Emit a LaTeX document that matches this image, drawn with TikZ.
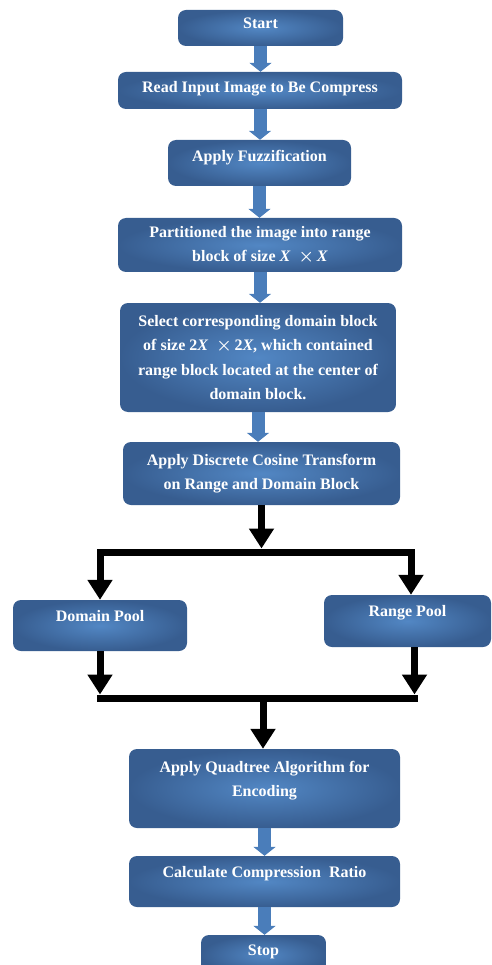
\documentclass[tikz,border=0pt]{standalone}
\usepackage{fontspec}
\setmainfont{Liberation Serif}
\usetikzlibrary{arrows.meta}
\definecolor{boxlight}{HTML}{5287C4}
\definecolor{boxdark}{HTML}{375D90}
\definecolor{arrowblue}{HTML}{4A7DBA}
\begin{document}
\begin{tikzpicture}[x=1pt, y=-1pt]
    \tikzset{
      stepbox/.style={rounded corners=8pt, inner color=boxlight, outer color=boxdark,
        text=white, align=center, inner sep=3pt,
        font=\bfseries\boldmath\fontsize{16}{24.5}\selectfont},
      lift/.style={text depth=#1},
      flow/.style={draw=arrowblue, line width=13pt, -{Triangle[width=22pt,length=9pt]}},
      branch/.style={line width=7pt, line join=miter, -{Triangle[width=24pt,length=20pt]}}
    }
    \useasboundingbox (0,0) rectangle (491,965);
    \node[stepbox, minimum width=165pt, minimum height=36pt, lift=9pt] (start) at (260.5,28) {Start};
    \node[stepbox, minimum width=284pt, minimum height=37pt, lift=8pt] (read) at (260,90.5) {Read Input Image to Be Compress};
    \node[stepbox, minimum width=183pt, minimum height=46pt, lift=15pt] (fuzzy) at (259.5,163) {Apply Fuzzification};
    \node[stepbox, minimum width=284pt, minimum height=54pt] (part) at (260,245) {Partitioned the image into range\\ block of size \textit{X}\ \ $\times$\,\textit{X}};
    \node[stepbox, minimum width=276pt, minimum height=109pt] (select) at (258,357.5) {Select corresponding domain block\\ of size 2\textit{X}\ \ $\times$\,2\textit{X}, which contained\\ range block located at the center of\\ domain block.};
    \node[stepbox, minimum width=277pt, minimum height=63pt] (dct) at (261.5,473.5) {Apply Discrete Cosine Transform\\ on Range and Domain Block};
    \node[stepbox, minimum width=174pt, minimum height=51pt, lift=19pt] (dpool) at (100,625.5) {Domain Pool};
    \node[stepbox, minimum width=167pt, minimum height=52pt, lift=21pt] (rpool) at (407.5,621) {Range Pool};
    \node[stepbox, minimum width=271pt, minimum height=79pt, lift=19pt] (quad) at (264.5,788.5) {Apply Quadtree Algorithm for\\ Encoding};
    \node[stepbox, minimum width=271pt, minimum height=51pt, lift=20pt] (calc) at (264.5,881.5) {Calculate Compression~ Ratio};
    \node[stepbox, minimum width=125pt, minimum height=40pt, lift=9pt] (stop) at (263.5,955) {Stop};
    \foreach \a/\b in {start/read, read/fuzzy, fuzzy/part, part/select, select/dct, quad/calc, calc/stop}
      \draw[flow] (\a.south) -- (\a.south |- \b.north);
    \coordinate (split) at (261.5,552);
    \coordinate (merge) at (263,698);
    \draw[branch, shorten >=3.5pt] (dct.south) -- (split);
    \draw[branch] (split) -| (dpool.north);
    \draw[branch] (split) -| ([xshift=3.5pt]rpool.north);
    \draw[branch, shorten >=3.5pt] (dpool.south) -- (dpool.south |- merge);
    \draw[branch, shorten >=3.5pt] ([xshift=7pt]rpool.south) -- ([xshift=7pt]rpool.south |- merge);
    \draw[line width=7pt, line cap=rect] (dpool.south |- merge) -- ([xshift=7pt]rpool.south |- merge);
    \draw[branch] (merge) -- (merge |- quad.north);
\end{tikzpicture}
\end{document}
